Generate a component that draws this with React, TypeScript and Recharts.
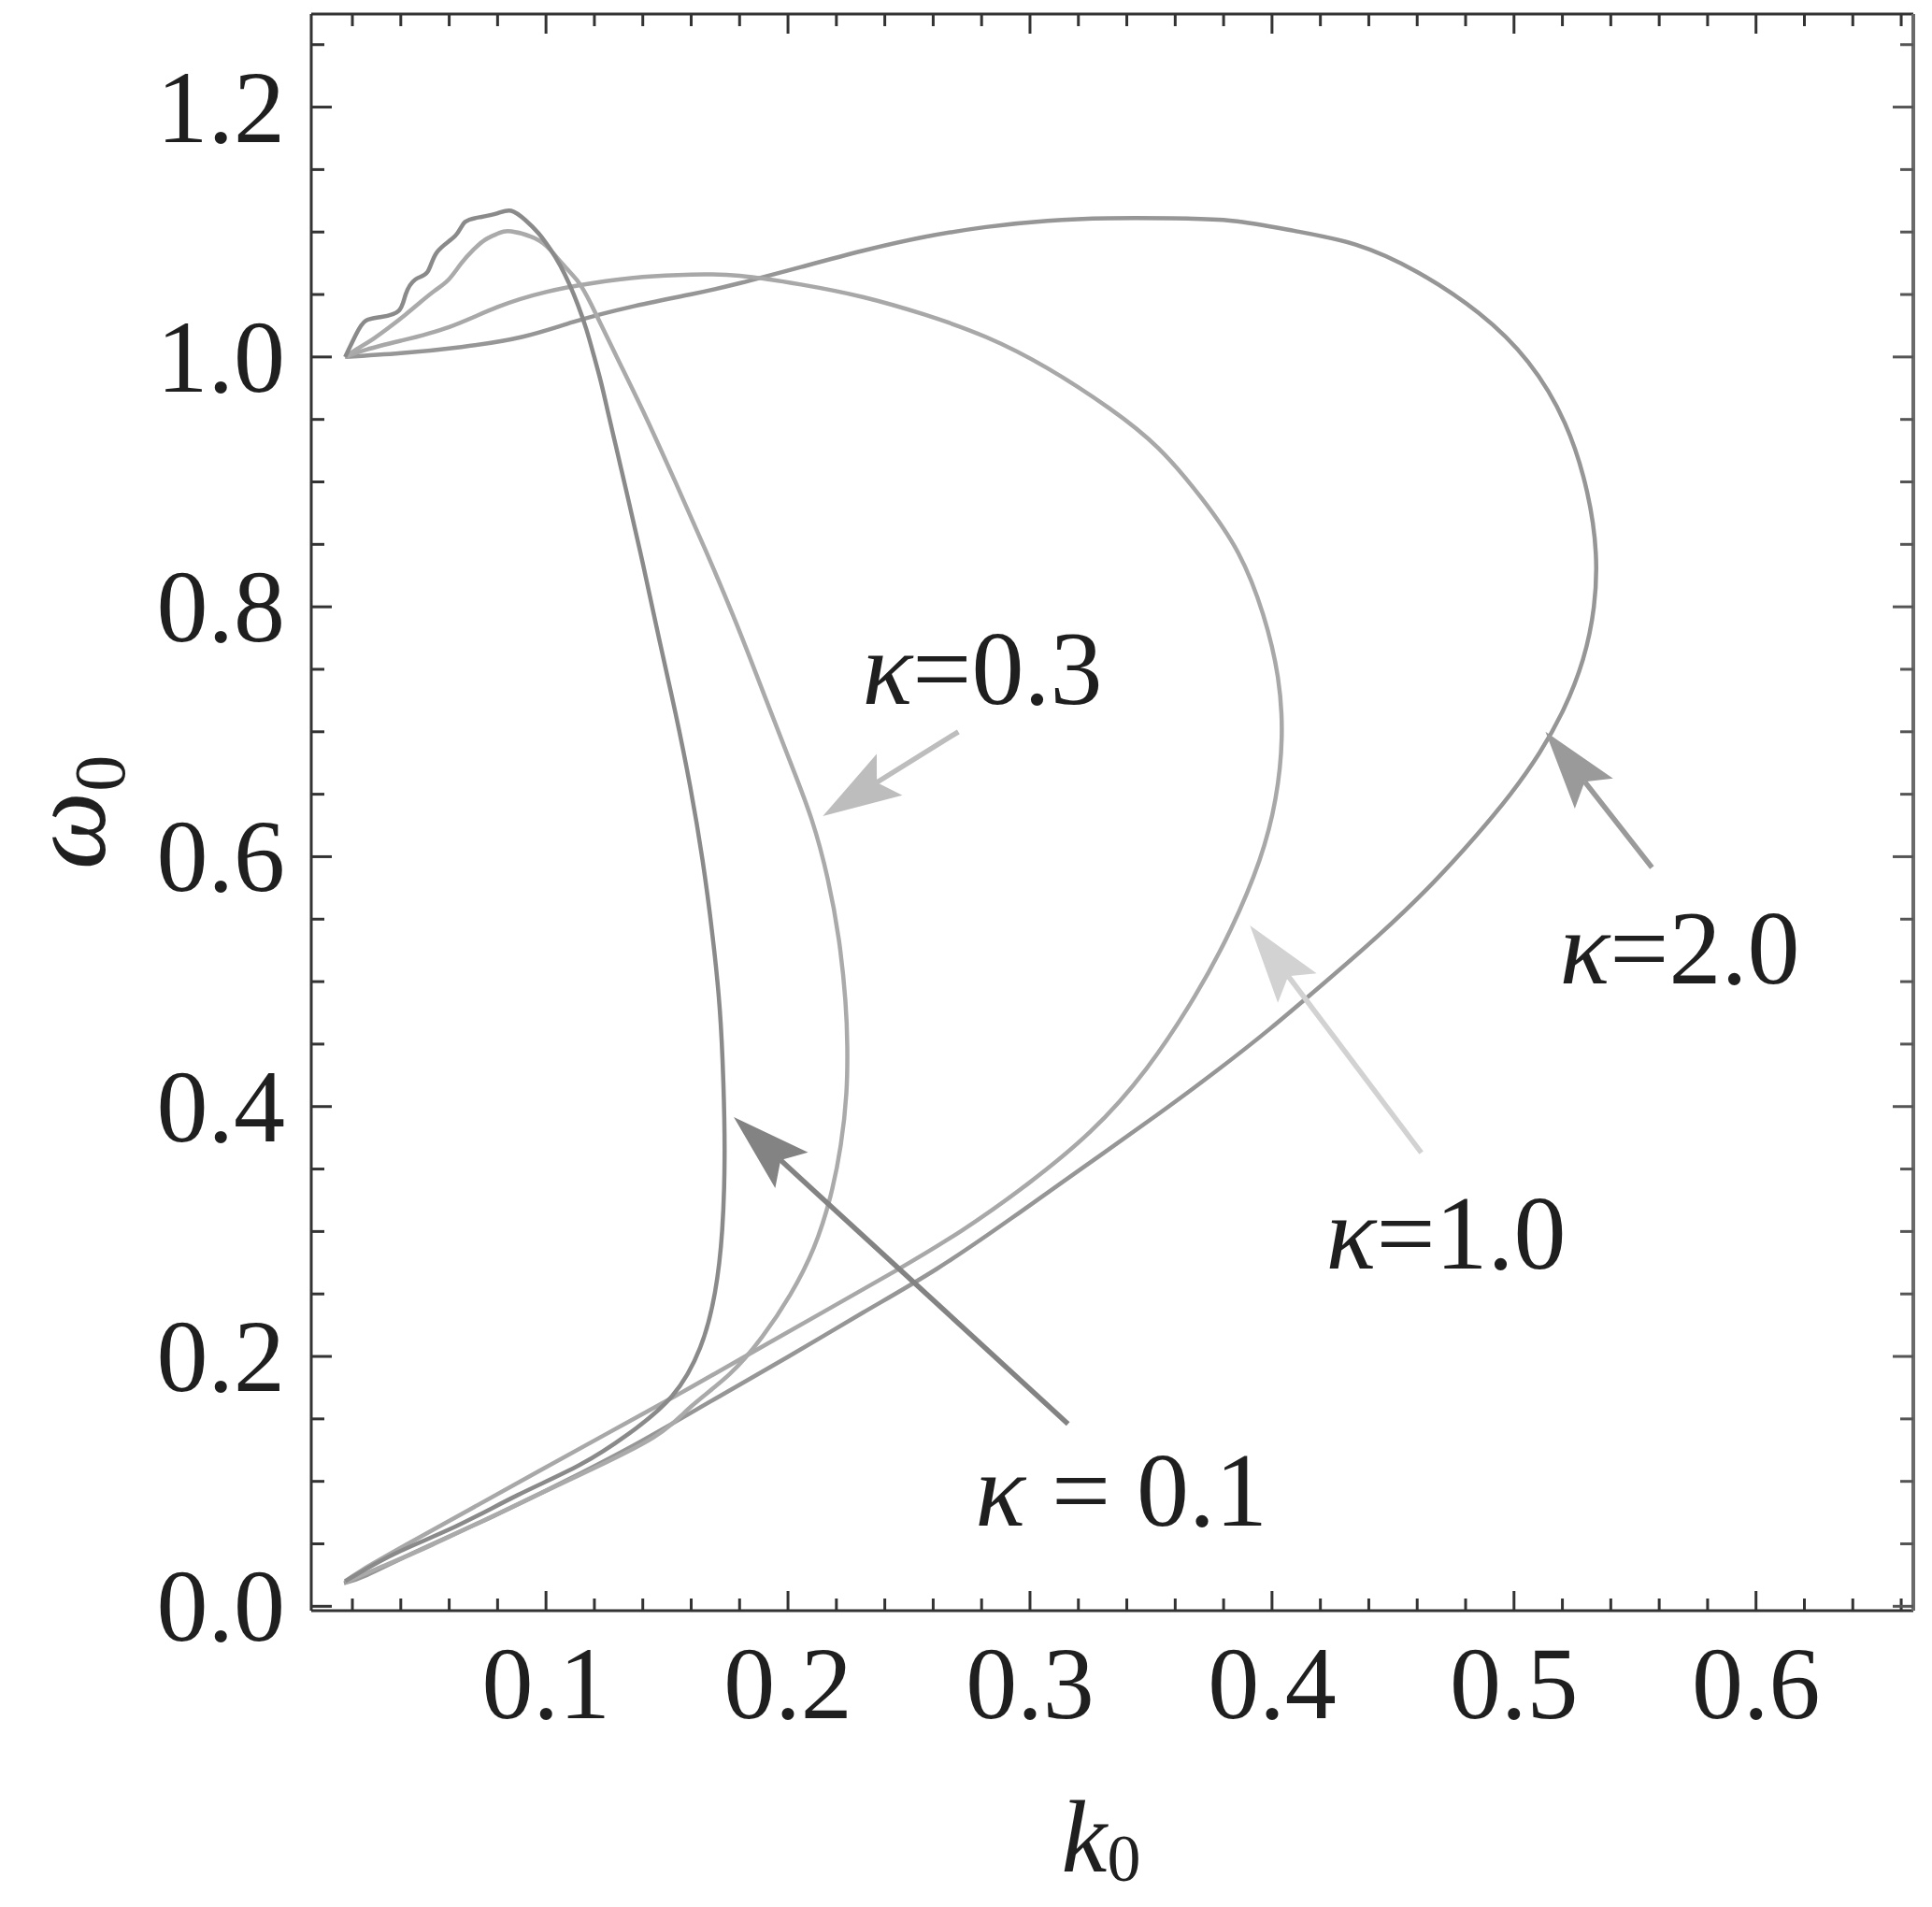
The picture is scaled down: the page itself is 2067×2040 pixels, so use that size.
import React from "react";
import { LineChart, Line, XAxis, YAxis, ReferenceLine, ReferenceDot } from "recharts";

const FONT = "'Liberation Serif', 'Times New Roman', serif";
const INK = "#1f1f1f";
const FRAME = "#333333";

const xDomain = [0.003, 0.665];
const yDomain = [-0.0035, 1.2745];

const xTicks = [
  0.02, 0.04, 0.06, 0.08, 0.1, 0.12, 0.14, 0.16, 0.18, 0.2, 0.22, 0.24, 0.26, 0.28, 0.3, 0.32, 0.34,
  0.36, 0.38, 0.4, 0.42, 0.44, 0.46, 0.48, 0.5, 0.52, 0.54, 0.56, 0.58, 0.6, 0.62, 0.64, 0.66,
];
const yTicks = [
  0, 0.05, 0.1, 0.15, 0.2, 0.25, 0.3, 0.35, 0.4, 0.45, 0.5, 0.55, 0.6, 0.65, 0.7, 0.75, 0.8, 0.85,
  0.9, 0.95, 1, 1.05, 1.1, 1.15, 1.2, 1.25,
];

// [k0, omega0] along each curve
const curveK01 = [
  [0.017, 1.0], [0.0215, 1.018], [0.0255, 1.029], [0.032, 1.032], [0.0392, 1.037], [0.042, 1.05],
  [0.046, 1.062], [0.051, 1.068], [0.055, 1.084], [0.0625, 1.097], [0.0665, 1.108], [0.073, 1.112],
  [0.08, 1.115], [0.0856, 1.117], [0.0915, 1.1095], [0.0969, 1.099], [0.1015, 1.087],
  [0.1058, 1.0735], [0.1096, 1.0585], [0.1131, 1.0421], [0.1166, 1.0226], [0.1197, 1.0017],
  [0.1228, 0.9792], [0.1255, 0.9567], [0.1282, 0.9343], [0.1309, 0.9118], [0.1336, 0.8894],
  [0.1402, 0.833], [0.1468, 0.774], [0.1535, 0.715], [0.1596, 0.656], [0.1647, 0.597],
  [0.1688, 0.537], [0.1718, 0.478], [0.1733, 0.419], [0.1738, 0.36], [0.1728, 0.301],
  [0.1698, 0.251], [0.1637, 0.207], [0.152, 0.168], [0.1341, 0.138], [0.1138, 0.113],
  [0.0883, 0.089], [0.0628, 0.064], [0.0374, 0.042], [0.017, 0.02],
];

const curveK03 = [
  [0.017, 1.0], [0.0225, 1.007], [0.029, 1.015], [0.0354, 1.024], [0.042, 1.034], [0.0482, 1.044],
  [0.054, 1.053], [0.0598, 1.062], [0.065, 1.075], [0.0701, 1.086], [0.075, 1.094], [0.0804, 1.099],
  [0.0857, 1.1005], [0.0973, 1.093], [0.105, 1.0785], [0.1128, 1.0615], [0.1189, 1.0412],
  [0.1294, 0.9994], [0.141, 0.953], [0.1533, 0.9006], [0.1661, 0.8445], [0.1788, 0.786],
  [0.1904, 0.7284], [0.2009, 0.676], [0.2098, 0.6296], [0.2164, 0.5824], [0.221, 0.5338],
  [0.2237, 0.4851], [0.2245, 0.4477], [0.2241, 0.4102], [0.2218, 0.3691], [0.2175, 0.3279],
  [0.2106, 0.2867], [0.2009, 0.2493], [0.1893, 0.2156], [0.1758, 0.1857], [0.16, 0.16],
  [0.1443, 0.135], [0.1138, 0.105], [0.0832, 0.077], [0.0527, 0.049], [0.03, 0.03], [0.017, 0.019],
];

const curveK10 = [
  [0.017, 1.0], [0.026, 1.006], [0.04, 1.013], [0.06, 1.024], [0.08, 1.04], [0.1, 1.052],
  [0.119, 1.059], [0.14, 1.064], [0.16, 1.066], [0.18, 1.065], [0.2054, 1.058], [0.2309, 1.048],
  [0.2563, 1.034], [0.2818, 1.016], [0.3072, 0.991], [0.3327, 0.959], [0.353, 0.927],
  [0.3709, 0.887], [0.3861, 0.843], [0.3963, 0.794], [0.4024, 0.744], [0.404, 0.695],
  [0.4014, 0.646], [0.3948, 0.597], [0.383, 0.542], [0.368, 0.488], [0.348, 0.43], [0.325, 0.38],
  [0.299, 0.338], [0.272, 0.301], [0.244, 0.268], [0.215, 0.236], [0.185, 0.203], [0.155, 0.17],
  [0.125, 0.138], [0.096, 0.107], [0.068, 0.077], [0.042, 0.049], [0.024, 0.029], [0.017, 0.02],
];

const curveK20 = [
  [0.017, 1.0], [0.04, 1.003], [0.065, 1.008], [0.09, 1.016], [0.1113, 1.028], [0.135, 1.04],
  [0.1596, 1.05], [0.1799, 1.059], [0.2054, 1.072], [0.2309, 1.085], [0.2563, 1.096],
  [0.2818, 1.104], [0.3072, 1.109], [0.3327, 1.111], [0.3582, 1.111], [0.3836, 1.109],
  [0.4091, 1.101], [0.4345, 1.09], [0.46, 1.068], [0.4855, 1.035], [0.5058, 0.996], [0.521, 0.947],
  [0.5302, 0.892], [0.5338, 0.843], [0.533, 0.8], [0.5285, 0.758], [0.5205, 0.718],
  [0.5105, 0.683], [0.4985, 0.65], [0.484, 0.616], [0.466, 0.578], [0.444, 0.537], [0.421, 0.498],
  [0.399, 0.462], [0.3767, 0.428], [0.353, 0.394], [0.3225, 0.352], [0.2919, 0.31],
  [0.2614, 0.27], [0.2309, 0.235], [0.2003, 0.2], [0.1698, 0.166], [0.1392, 0.132],
  [0.1087, 0.101], [0.0781, 0.072], [0.0476, 0.045], [0.026, 0.025], [0.0165, 0.0185],
];

// arrows: [tail, tip]
const arrowK01 = [[0.3157, 0.146], [0.1776, 0.3915]];
const arrowK03 = [[0.2704, 0.7], [0.2144, 0.6326]];
const arrowK10 = [[0.4617, 0.3631], [0.3909, 0.545]];
const arrowK20 = [[0.557, 0.5914], [0.513, 0.7]];

// label anchors: [k0, omega0] of text start / baseline
const labelK01 = [0.2773, 0.0644];
const labelK03 = [0.2307, 0.7224];
const labelK10 = [0.4223, 0.2703];
const labelK20 = [0.5188, 0.4986];

const series = [
  { id: "k20", points: curveK20, color: "#969696", frame: true },
  { id: "k10", points: curveK10, color: "#a8a8a8", frame: false },
  { id: "k03", points: curveK03, color: "#aaaaaa", frame: false },
  { id: "k01", points: curveK01, color: "#8a8a8a", frame: false },
];

const arrows = [
  { id: "a03", seg: arrowK03, color: "#bdbdbd" },
  { id: "a10", seg: arrowK10, color: "#d2d2d2" },
  { id: "a20", seg: arrowK20, color: "#9a9a9a" },
  { id: "a01", seg: arrowK01, color: "#838383" },
];

const labels = [
  { id: "l03", at: labelK03, text: "=0.3" },
  { id: "l10", at: labelK10, text: "=1.0" },
  { id: "l20", at: labelK20, text: "=2.0" },
  { id: "l01", at: labelK01, text: " = 0.1" },
];

const toRows = (pts: number[][]) => pts.map(([k, w]) => ({ k, w }));

const isMajorX = (v: number) => Math.abs(v * 10 - Math.round(v * 10)) < 1e-6;
const isMajorY = (v: number) => Math.abs(v * 5 - Math.round(v * 5)) < 1e-6;

const BottomTick = ({ x, y, payload }: any) => {
  const major = isMajorX(payload.value);
  return (
    <g>
      <line x1={x} y1={y} x2={x} y2={y - (major ? 21 : 13)} stroke={FRAME} strokeWidth={3} />
      {major && (
        <text x={x} y={y + 115} textAnchor="middle" fontFamily={FONT} fontSize={110} fill={INK}>
          {payload.value.toFixed(1)}
        </text>
      )}
    </g>
  );
};

const TopTick = ({ x, y, payload }: any) => {
  const major = isMajorX(payload.value);
  return <line x1={x} y1={y} x2={x} y2={y + (major ? 21 : 13)} stroke={FRAME} strokeWidth={3} />;
};

const LeftTick = ({ x, y, payload }: any) => {
  const major = isMajorY(payload.value);
  return (
    <g>
      <line x1={x} y1={y} x2={x + (major ? 22 : 14)} y2={y} stroke={FRAME} strokeWidth={3} />
      {major && (
        <text x={x - 28} y={y + 37} textAnchor="end" fontFamily={FONT} fontSize={110} fill={INK}>
          {payload.value.toFixed(1)}
        </text>
      )}
    </g>
  );
};

const RightTick = ({ x, y, payload }: any) => {
  const major = isMajorY(payload.value);
  return <line x1={x} y1={y} x2={x - (major ? 22 : 14)} y2={y} stroke="#555" strokeWidth={3} />;
};

const kTitle = (props: any) => {
  const vb = props.viewBox;
  return (
    <text x={vb.x + vb.width / 2 - 12} y={vb.y + 279} textAnchor="middle" fontFamily={FONT} fill={INK}>
      <tspan fontStyle="italic" fontSize={110}>k</tspan>
      <tspan fontSize={72} dy={10}>0</tspan>
    </text>
  );
};

const omegaTitle = (props: any) => {
  const vb = props.viewBox;
  const bx = vb.x + 112;
  const cy = vb.y + vb.height / 2;
  return (
    <text x={bx} y={cy} transform={`rotate(-90 ${bx} ${cy})`} textAnchor="middle" fontFamily={FONT} fill={INK}>
      <tspan fontStyle="italic" fontSize={118}>ω</tspan>
      <tspan fontSize={78} dy={21}>0</tspan>
    </text>
  );
};

const makeArrow = (color: string) => (props: any) => {
  const { x1, y1, x2, y2 } = props;
  const dx = x2 - x1;
  const dy = y2 - y1;
  const len = Math.hypot(dx, dy) || 1;
  const ux = dx / len;
  const uy = dy / len;
  const hl = 84;
  const hw = 26;
  const bx = x2 - ux * hl;
  const by = y2 - uy * hl;
  const nx = bx + ux * 16;
  const ny = by + uy * 16;
  return (
    <g>
      <line x1={x1} y1={y1} x2={nx} y2={ny} stroke={color} strokeWidth={5.5} />
      <polygon
        points={`${x2},${y2} ${bx - uy * hw},${by + ux * hw} ${nx},${ny} ${bx + uy * hw},${by - ux * hw}`}
        fill={color}
      />
    </g>
  );
};

const makeLabel = (text: string) => (props: any) => (
  <text x={props.cx} y={props.cy} fontFamily={FONT} fontSize={112} fill={INK} style={{ whiteSpace: "pre" }}>
    <tspan fontStyle="italic">κ</tspan>
    <tspan>{text}</tspan>
  </text>
);

export default function App() {
  return (
    <div style={{ position: "absolute", left: 0, top: 0, background: "#ffffff" }}>
      <LineChart width={2067} height={2040} margin={{ top: 14, right: 19, bottom: 0, left: 0 }}>
        <XAxis
          dataKey="k"
          type="number"
          domain={xDomain}
          allowDataOverflow
          ticks={xTicks}
          interval={0}
          tickSize={0}
          tickMargin={0}
          tickLine={false}
          axisLine={{ stroke: FRAME, strokeWidth: 3 }}
          height={317}
          tick={BottomTick}
          label={kTitle}
        />
        <XAxis
          xAxisId="top"
          orientation="top"
          dataKey="k"
          type="number"
          domain={xDomain}
          allowDataOverflow
          ticks={xTicks}
          interval={0}
          tickSize={0}
          tickMargin={0}
          tickLine={false}
          axisLine={{ stroke: FRAME, strokeWidth: 3 }}
          height={1}
          tick={TopTick}
        />
        <YAxis
          type="number"
          domain={yDomain}
          allowDataOverflow
          ticks={yTicks}
          interval={0}
          tickSize={0}
          tickMargin={0}
          tickLine={false}
          axisLine={{ stroke: FRAME, strokeWidth: 3 }}
          width={333}
          tick={LeftTick}
          label={omegaTitle}
        />
        <YAxis
          yAxisId="right"
          orientation="right"
          type="number"
          domain={yDomain}
          allowDataOverflow
          ticks={yTicks}
          interval={0}
          tickSize={0}
          tickMargin={0}
          tickLine={false}
          axisLine={{ stroke: "#6a6a6a", strokeWidth: 4 }}
          width={1}
          tick={RightTick}
        />
        {series.map((s) => (
          <Line
            key={s.id}
            xAxisId={s.frame ? "top" : 0}
            yAxisId={s.frame ? "right" : 0}
            data={toRows(s.points)}
            dataKey="w"
            type="natural"
            stroke={s.color}
            strokeWidth={4.5}
            dot={false}
            activeDot={false}
            isAnimationActive={false}
          />
        ))}
        {arrows.map((a) => (
          <ReferenceLine
            key={a.id}
            segment={[
              { x: a.seg[0][0], y: a.seg[0][1] },
              { x: a.seg[1][0], y: a.seg[1][1] },
            ]}
            shape={makeArrow(a.color)}
          />
        ))}
        {labels.map((l) => (
          <ReferenceDot key={l.id} x={l.at[0]} y={l.at[1]} r={1} shape={makeLabel(l.text)} />
        ))}
      </LineChart>
    </div>
  );
}
